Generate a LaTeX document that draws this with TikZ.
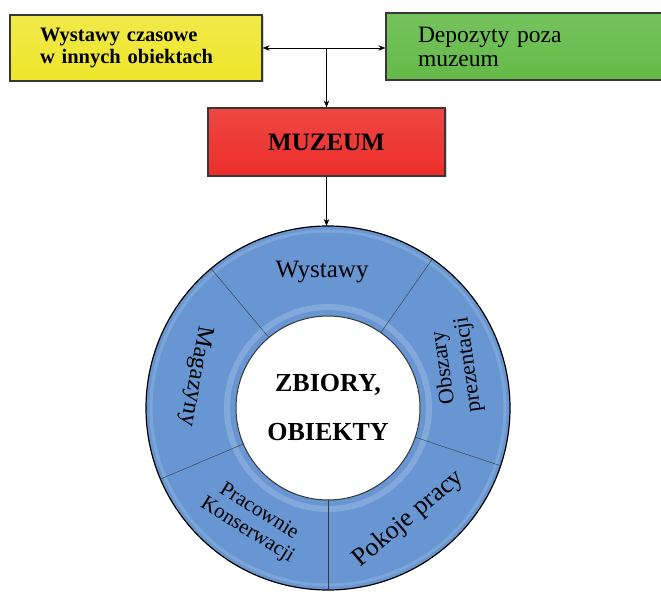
\documentclass[tikz,border=0pt]{standalone}
\usepackage{fontspec}
\setmainfont{Liberation Serif}
\usepackage{xcolor}
\usepackage{tikz}
\usetikzlibrary{arrows.meta, positioning, shadows}

\definecolor{zolty}{RGB}{238,230,42}
\definecolor{zielony}{RGB}{100,186,72}
\definecolor{czerwony}{RGB}{236,46,42}
\definecolor{niebieski}{RGB}{104,150,210}
\definecolor{ramka}{RGB}{55,55,55}

\tikzset{
  pudelko/.style={draw=ramka, line width=1.2pt, inner ysep=0pt,
    drop shadow={shadow xshift=1.5pt, shadow yshift=-1.5pt, opacity=0.35}},
  etykieta/.style={align=center, text=black}
}

\begin{document}
\begin{tikzpicture}[->,
				>={Stealth[length=7pt, width=5.5pt]},
				shorten >=0pt,
				x=1pt, y=1pt,
				line width=0.8pt]
				\useasboundingbox (0,0) rectangle (661,595);
				% ramki u gory
				\node at (136,547) (wystawyCzas) [pudelko, top color=zolty!85!white, bottom color=zolty,
					minimum width=252pt, minimum height=66pt, text width=192pt, align=left,
					font=\bfseries\fontsize{20.5}{22}\selectfont] {Wystawy czasowe\\ w innych obiektach};
				\node at (527,548.5) (depozyty) [pudelko, top color=zielony!88!white, bottom color=zielony,
					minimum width=282pt, minimum height=67pt, text width=218pt, align=left,
					font=\fontsize{23.5}{24}\selectfont] {Depozyty poza\\ muzeum};
				\node at (326.5,453) (muzeum) [pudelko, top color=czerwony!88!white, bottom color=czerwony,
					minimum width=237pt, minimum height=68pt,
					font=\bfseries\fontsize{25}{28}\selectfont] {MUZEUM};
				% pierscien
				\coordinate (srodek) at (328,187);
				\coordinate (szczyt) at ([shift={(90:182)}]srodek);
				\fill[-, niebieski, even odd rule] (srodek) circle (182) (srodek) circle (92);
				\draw[-, white, opacity=0.18, line width=6pt] (srodek) circle (101);
				\draw[-, white, opacity=0.15, line width=3pt] (srodek) circle (177);
				\draw[-, black, line width=1.2pt] (srodek) circle (182);
				\draw[-, ramka, line width=1pt] (srodek) circle (92);
				\foreach \kat in {130, 55, -18.5, -90, 203}
					\draw[-, ramka, thin] (srodek) ++(\kat:92) -- ++(\kat:90);
				\node at (srodek) (zbiory) [align=center, font=\bfseries\fontsize{26}{49}\selectfont] {ZBIORY,\\ OBIEKTY};
				\node at ([shift={(92.5:136)}]srodek) (wystawy) [etykieta, font=\fontsize{25}{26}\selectfont] {Wystawy};
				\node at ([shift={(18:135)}]srodek) (obszary) [etykieta, rotate=98, font=\fontsize{22}{25}\selectfont] {Obszary\\ prezentacji};
				\node at ([shift={(-54:137)}]srodek) (pokoje) [etykieta, rotate=40, font=\fontsize{26}{28}\selectfont] {Pokoje pracy};
				\node at ([shift={(236.5:136)}]srodek) (pracownie) [etykieta, rotate=-32, font=\fontsize{21}{22}\selectfont] {Pracownie\\ Konserwacji};
				\node at ([shift={(166.5:136)}]srodek) (magazyny) [etykieta, rotate=-100, font=\fontsize{24}{26}\selectfont] {Magazyny};
				% strzalki
				\draw[<->, black] (wystawyCzas.east) -- (wystawyCzas.east -| depozyty.west);
				\draw[->, black] (wystawyCzas.east -| muzeum.north) -- (muzeum.north);
				\draw[->, black] (muzeum.south) -- (muzeum.south |- szczyt);
			\end{tikzpicture}
\end{document}
